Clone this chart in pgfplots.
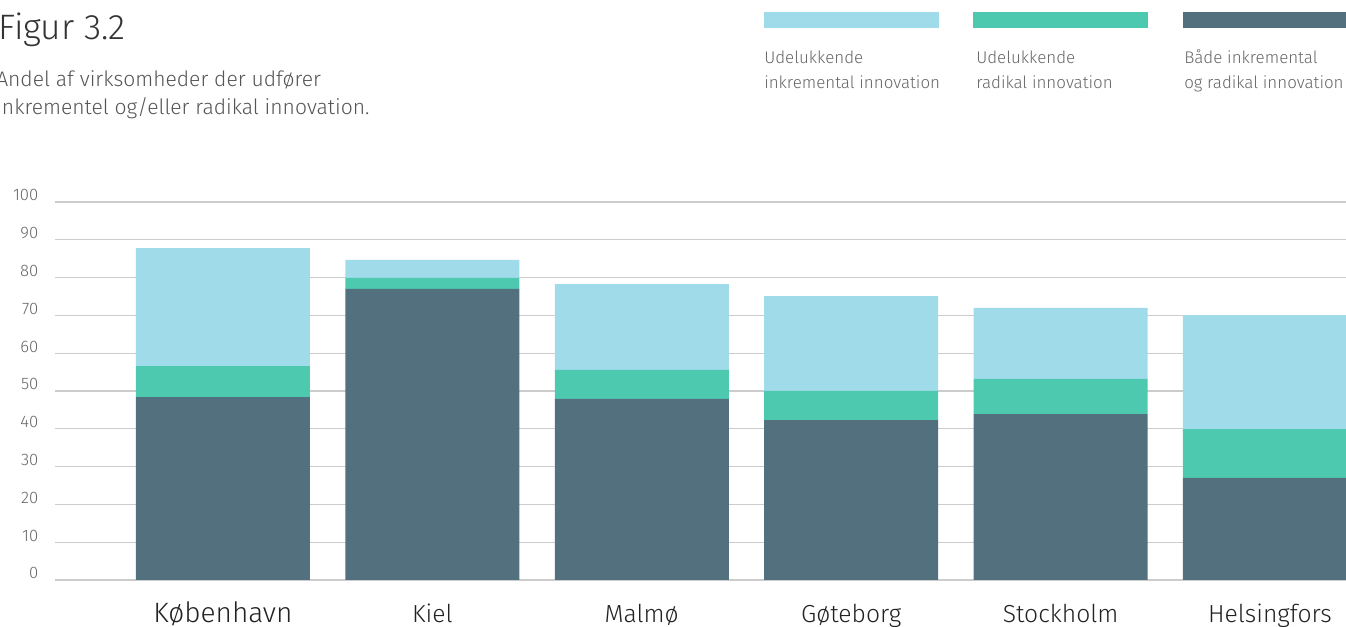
\documentclass[border=0pt]{standalone}
\usepackage{pgfplots}
\pgfplotsset{compat=1.18}
\usepackage{fontspec}
\setmainfont{Fira Sans}[UprightFont={* Light}]
\definecolor{cLight}{HTML}{A0DBEA}
\definecolor{cGreen}{HTML}{4DC9B0}
\definecolor{cDark}{HTML}{52707E}
\definecolor{cGrid}{HTML}{CCCCCC}
\definecolor{cTick}{HTML}{666666}
\definecolor{cSub}{HTML}{555555}
\definecolor{cTitle}{HTML}{333333}
\definecolor{cCity}{HTML}{222222}
\pgfplotstableread{
x both radical incr
0 48.4 8.2 31.2
1 77.0 2.9 4.8
2 47.9 7.7 22.7
3 42.3 7.7 25.1
4 43.9 9.3 18.8
5 27.0 12.9 30.2
}\datatab
\begin{document}
\begin{tikzpicture}[x=0.75pt,y=0.75pt]
\useasboundingbox (0,0) rectangle (1346,627);
\begin{axis}[
  at={(41.25pt,35.25pt)}, anchor=south west,
  scale only axis, width=968.25pt, height=283.5pt,
  xmin=-0.802, xmax=5.363, ymin=0, ymax=100,
  ybar stacked, bar width=130.5pt,
  axis line style={draw=none},
  major tick length=0pt,
  ytick={0,10,...,100},
  ymajorgrids, grid style={cGrid, line width=0.9pt},
  xtick={0,...,5},
  xticklabels={{\fontsize{21}{24}\selectfont København},Kiel,Malmø,Gøteborg,Stockholm,Helsingfors},
  xticklabel style={anchor=base, yshift=-32pt, font=\fontsize{18.5}{22}\selectfont, text=cCity},
  yticklabel style={anchor=east, xshift=-9pt, yshift=5pt, font=\fontsize{12.5}{14}\selectfont, text=cTick},
  /pgf/number format/assume math mode=true,
  clip=true,
]
\addplot[fill=cDark, draw=none] table[x=x, y=both] {\datatab};
\addplot[fill=cGreen, draw=none] table[x=x, y=radical] {\datatab};
\addplot[fill=cLight, draw=none] table[x=x, y=incr] {\datatab};
\end{axis}
% title and subtitle
\node[anchor=base west, inner sep=0, text=cTitle, font=\fontsize{26.5}{30}\selectfont] at (-2,587) {Figur 3.2};
\node[anchor=base west, inner sep=0, text=cSub, align=left, font=\fontsize{15.8}{21}\selectfont] at (-4,512) {Andel af virksomheder der udfører\\inkrementel og/eller radikal innovation.};
% legend
\fill[cLight] (764,599) rectangle (939,615);
\fill[cGreen] (973,599) rectangle (1148,615);
\fill[cDark] (1183,599) rectangle (1346,615);
\node[anchor=base west, inner sep=0, text=cTick, align=left, font=\fontsize{12.7}{18.75}\selectfont] at (764,538) {Udelukkende\\inkremental innovation};
\node[anchor=base west, inner sep=0, text=cTick, align=left, font=\fontsize{12.7}{18.75}\selectfont] at (976,538) {Udelukkende\\radikal innovation};
\node[anchor=base west, inner sep=0, text=cTick, align=left, font=\fontsize{12.7}{18.75}\selectfont] at (1184,538) {Både inkremental\\og radikal innovation};
\end{tikzpicture}
\end{document}
